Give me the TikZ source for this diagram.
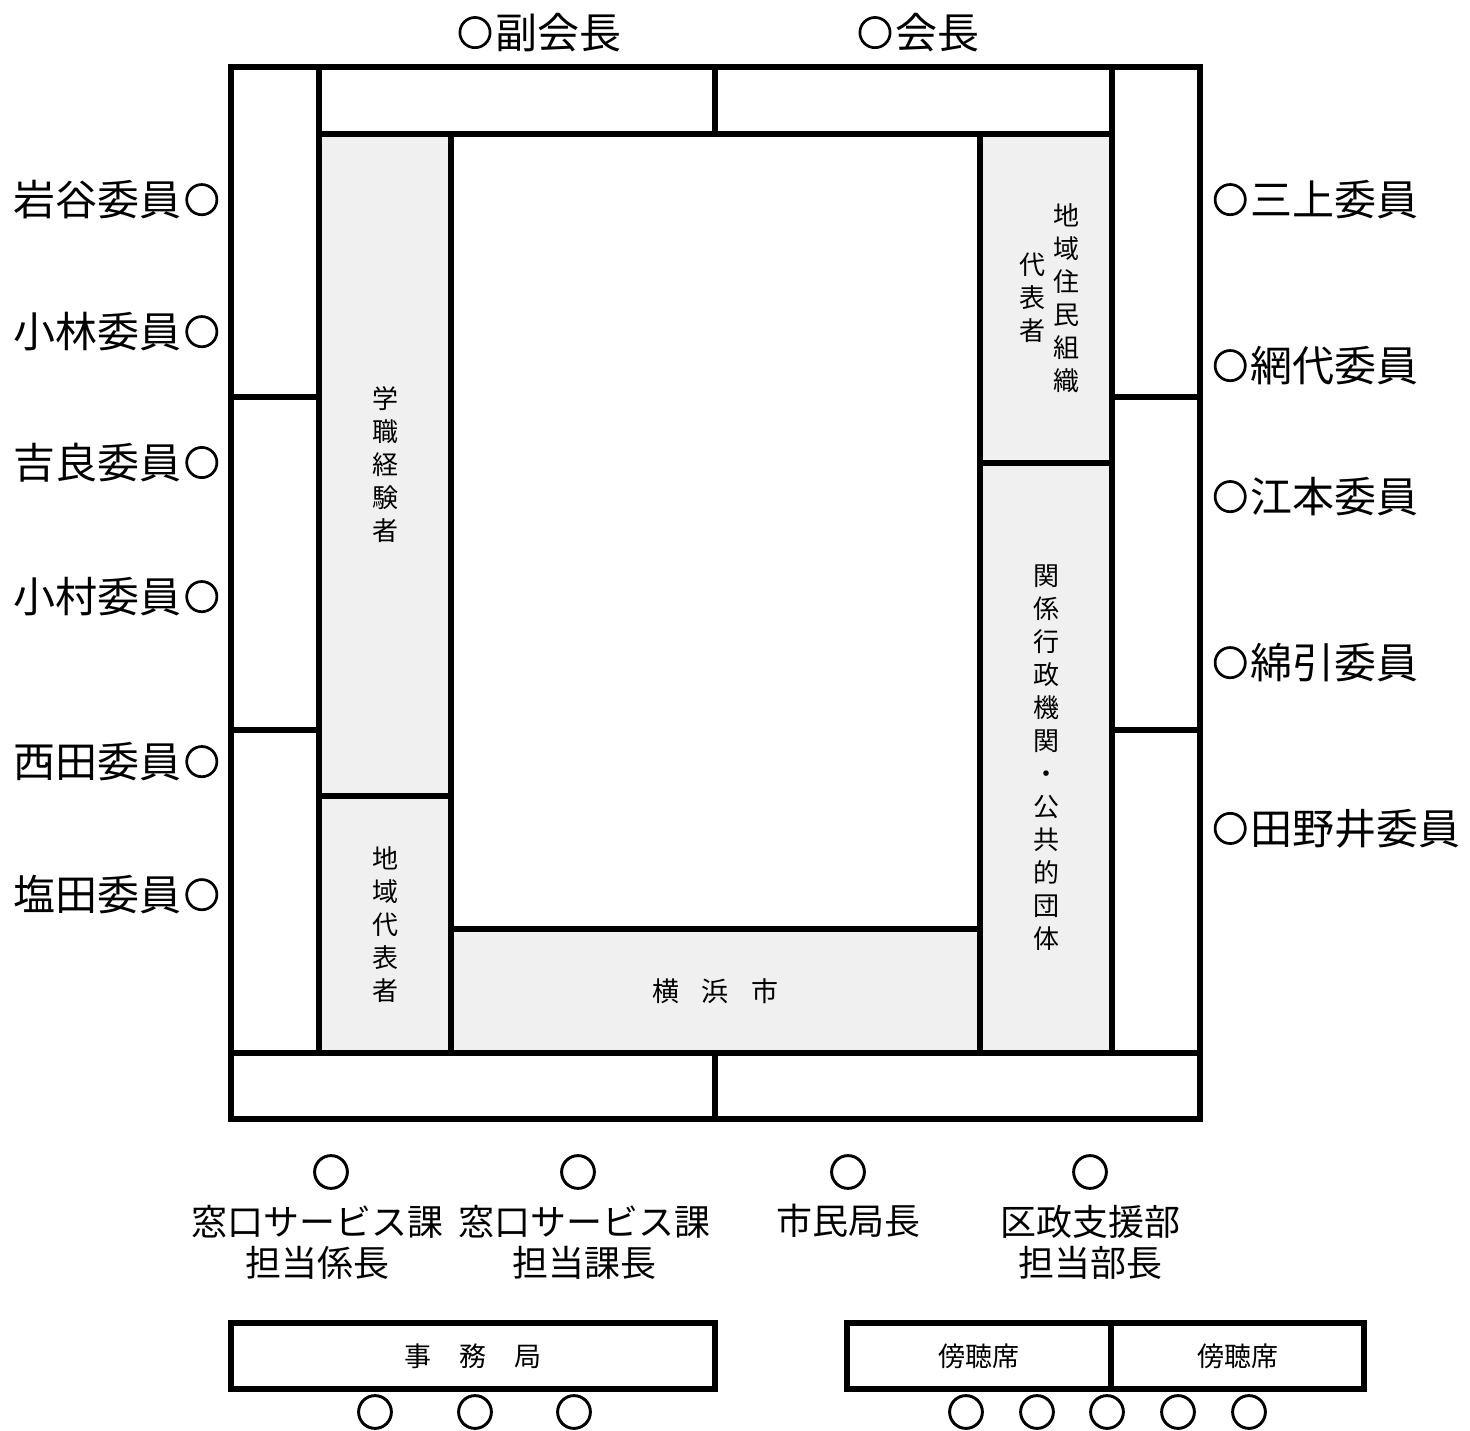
\documentclass[tikz,border=0pt]{standalone}
\usepackage{fontspec}
\setmainfont{Noto Sans CJK JP}
\newfontfamily\circfont{Noto Sans CJK JP}[FakeBold=4]
\usetikzlibrary{fit}
\definecolor{cellgrey}{HTML}{F0F0F0}
\newcommand\maru{\makebox[40pt]{\raisebox{3pt}{\circfont\fontsize{35}{40}\selectfont ○}}}
\begin{document}
\begin{tikzpicture}[x=1pt,y=-1pt,
  cell/.style={draw=black,line width=6pt,rectangle,inner sep=0pt,outer sep=0pt},
  greycell/.style={cell,fill=cellgrey},
  big/.style={font=\fontsize{42}{50}\selectfont,inner sep=0pt},
  mid/.style={font=\fontsize{36}{41}\selectfont,inner sep=0pt,align=center},
  vert/.style={font=\fontsize{26}{33}\selectfont,inner sep=0pt,align=center},
  small/.style={font=\fontsize{27}{33}\selectfont,inner sep=0pt},
  seat/.style={font=\circfont\fontsize{38}{40}\selectfont,inner sep=0pt}]
\useasboundingbox (0,0) rectangle (1470,1431);

% top row
\node[cell,fit={(319,67) (715,134)}] (topL) {};
\node[cell,fit={(715,67) (1112,134)}] (topR) {};
% left column
\node[cell,fit={(231,67) (319,397)}] (lc1) {};
\node[cell,fit={(231,397) (319,730)}] (lc2) {};
\node[cell,fit={(231,730) (319,1053)}] (lc3) {};
% right column
\node[cell,fit={(1112,67) (1200,397)}] (rc1) {};
\node[cell,fit={(1112,397) (1200,730)}] (rc2) {};
\node[cell,fit={(1112,730) (1200,1053)}] (rc3) {};
% grey groups
\node[greycell,fit={(319,134) (451,796)}] (gakushiki) {};
\node[greycell,fit={(319,796) (451,1053)}] (chiiki) {};
\node[greycell,fit={(980,134) (1112,463)}] (jumin) {};
\node[greycell,fit={(980,463) (1112,1053)}] (kankei) {};
\node[cell,fit={(451,134) (980,929)}] (center) {};
\node[greycell,fit={(451,929) (980,1053)}] (yokohama) {};
% bottom row
\node[cell,fit={(231,1053) (715,1119)}] (botL) {};
\node[cell,fit={(715,1053) (1200,1119)}] (botR) {};
% secretariat and gallery
\node[cell,fit={(231,1323) (715,1389)}] (jimu) {};
\node[cell,fit={(847,1323) (1111,1389)}] (bo1) {};
\node[cell,fit={(1111,1323) (1364,1389)}] (bo2) {};

% texts in cells
\node[vert] (tGaku) at (gakushiki.center) {学\\職\\経\\験\\者};
\node[vert] (tChiiki) at (chiiki.center) {地\\域\\代\\表\\者};
\node[vert] (tJumin1) at (1066,298) {地\\域\\住\\民\\組\\織};
\node[vert] (tJumin2) at (1032,298) {代\\表\\者};
\node[vert] (tKankei) at (kankei.center) {関\\係\\行\\政\\機\\関\\・\\公\\共\\的\\団\\体};
\node[small] (tYoko) at (yokohama.center) {横\hspace{23pt}浜\hspace{23pt}市};
\node[small] (tJimu) at (jimu.center) {事\hspace{28pt}務\hspace{28pt}局};
\node[small] (tBo1) at (bo1.center) {傍聴席};
\node[small] (tBo2) at (bo2.center) {傍聴席};

% top labels
\node[big] (fuku) at (538,33) {\maru 副会長};
\node[big] (kaicho) at (917,33) {\maru 会長};

% left labels
\node[big,anchor=east] (iwaya) at (222,200) {岩谷委員\maru};
\node[big,anchor=east] (kobayashi) at (222,332) {小林委員\maru};
\node[big,anchor=east] (kira) at (222,463) {吉良委員\maru};
\node[big,anchor=east] (komura) at (222,597) {小村委員\maru};
\node[big,anchor=east] (nishida) at (222,762) {西田委員\maru};
\node[big,anchor=east] (shioda) at (222,895) {塩田委員\maru};

% right labels
\node[big,anchor=west] (mikami) at (1210,200) {\maru 三上委員};
\node[big,anchor=west] (ajiro) at (1210,366) {\maru 網代委員};
\node[big,anchor=west] (emoto) at (1210,497) {\maru 江本委員};
\node[big,anchor=west] (watahiki) at (1210,663) {\maru 綿引委員};
\node[big,anchor=west] (tanoi) at (1210,829) {\maru 田野井委員};

% bottom staff
\node[seat] (s1) at (331,1172) {○};
\node[seat] (s2) at (578,1172) {○};
\node[seat] (s3) at (848,1172) {○};
\node[seat] (s4) at (1090,1172) {○};
\node[mid] (l1) at (317,1242) {窓口サービス課\\担当係長};
\node[mid] (l2) at (584,1242) {窓口サービス課\\担当課長};
\node[mid] (l3) at (848,1221) {市民局長};
\node[mid] (l4) at (1090,1242) {区政支援部\\担当部長};

% seats below boxes
\node[seat] (j1) at (375,1412) {○};
\node[seat] (j2) at (475,1412) {○};
\node[seat] (j3) at (574,1412) {○};
\node[seat] (b1) at (966,1412) {○};
\node[seat] (b2) at (1037,1412) {○};
\node[seat] (b3) at (1107,1412) {○};
\node[seat] (b4) at (1178,1412) {○};
\node[seat] (b5) at (1249,1412) {○};
\end{tikzpicture}
\end{document}
